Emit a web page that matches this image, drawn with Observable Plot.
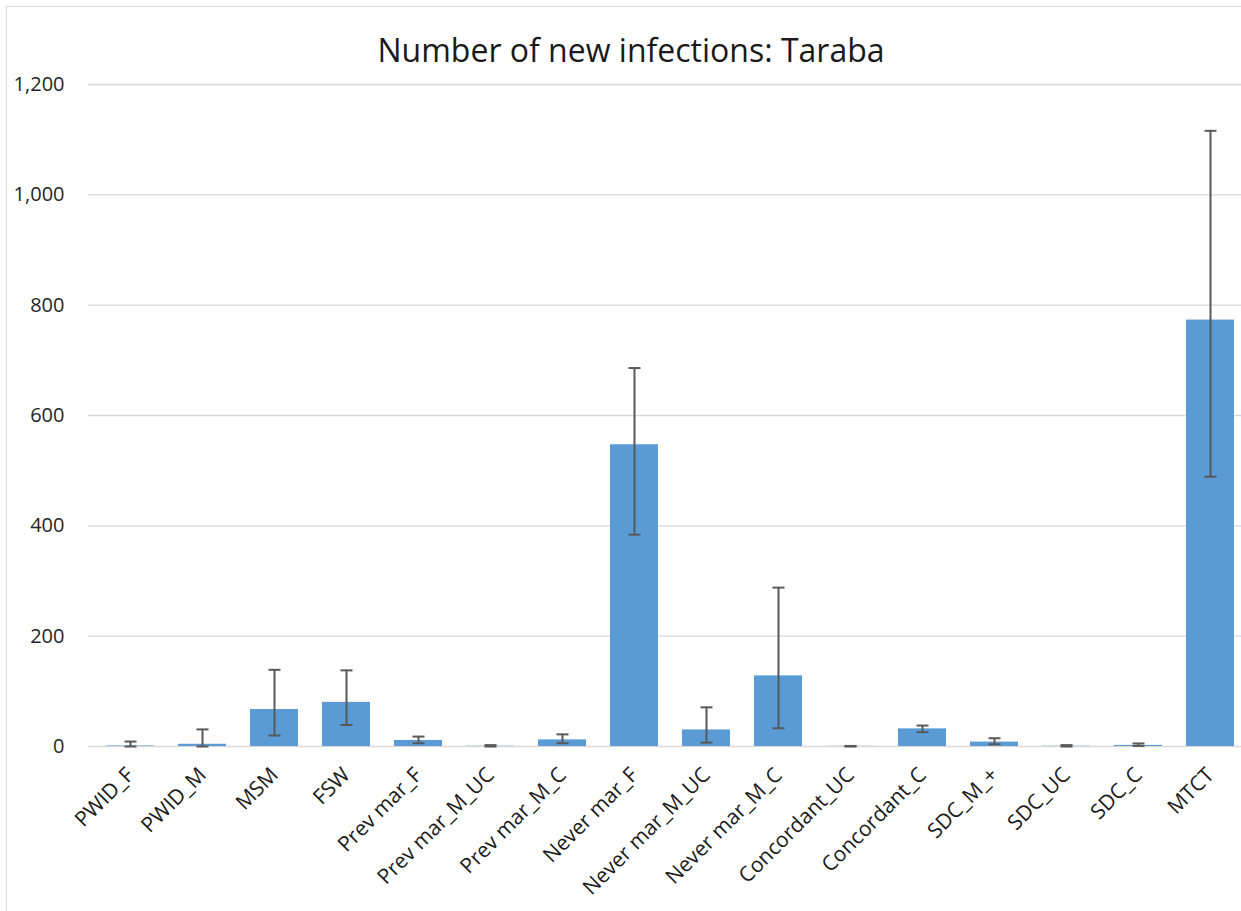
<!DOCTYPE html>
<html><head><meta charset="utf-8">
<script src="https://cdn.jsdelivr.net/npm/d3@7"></script>
<script src="https://cdn.jsdelivr.net/npm/@observablehq/plot@0.6"></script>
<style>
html,body{margin:0;padding:0;background:#fff;overflow:hidden;width:1241px;height:911px;}
#frame{position:absolute;left:6px;top:6px;width:1300px;height:1000px;border:1px solid #d9d9d9;box-sizing:border-box;}
#title{position:absolute;left:0;top:34px;width:1262px;text-align:center;font:32px/32px "Open Sans",sans-serif;color:#1a1a1a;white-space:nowrap;}
#chart{position:absolute;left:0;top:70px;width:1252px;height:841px;}
#chart svg{max-width:none !important;}
</style></head><body>
<div id="frame"></div>
<div id="title">Number of new infections: Taraba</div>
<div id="chart"></div>
<script>
const categories = ["PWID_F","PWID_M","MSM","FSW","Prev mar_F","Prev mar_M_UC","Prev mar_M_C","Never mar_F","Never mar_M_UC","Never mar_M_C","Concordant_UC","Concordant_C","SDC_M_+","SDC_UC","SDC_C","MTCT"];
const values = [1, 4, 67, 80, 11, 0.5, 12, 547, 30, 128, 0.3, 32, 8, 0.5, 2, 773];
const lower  = [0, 0, 20, 39, 6, 0, 6, 384, 7, 33, 0, 26, 4, 0, 1, 489];
const upper  = [9, 31, 139, 138, 18, 2.5, 22, 686, 71, 288, 1, 38, 15, 2.5, 5.5, 1116];
const yTicks = [0, 200, 400, 600, 800, 1000, 1200];

const data = categories.map((c, i) => ({category: c, value: values[i], lo: lower[i], hi: upper[i]}));
const cap = {draw(ctx) { ctx.moveTo(-6, 0); ctx.lineTo(6, 0); }};

const plot = Plot.plot({
  width: 1252, height: 841,
  marginTop: 14, marginBottom: 165, marginLeft: 88, marginRight: 0,
  style: {fontFamily: '"Open Sans", sans-serif', background: "transparent", overflow: "visible", maxWidth: "none"},
  x: {domain: categories, paddingInner: 0.34, paddingOuter: 0.17, label: null},
  y: {domain: [0, 1200], label: null},
  marks: [
    Plot.gridY(yTicks, {stroke: "#d9d9d9", strokeOpacity: 1, strokeWidth: 1.3}),
    Plot.barY(data, {x: "category", y: "value", fill: "#5B9BD5"}),
    Plot.ruleX(data, {x: "category", y1: "lo", y2: "hi", stroke: "#595959", strokeWidth: 2}),
    Plot.dot(data, {x: "category", y: "lo", symbol: cap, fill: "none", stroke: "#595959", strokeWidth: 2}),
    Plot.dot(data, {x: "category", y: "hi", symbol: cap, fill: "none", stroke: "#595959", strokeWidth: 2}),
    Plot.axisY(yTicks, {tickSize: 0, tickPadding: 24, tickFormat: d3.format(","), fontSize: 20, fill: "#262626", label: null}),
    Plot.axisX({tickSize: 0, tickPadding: 25, tickRotate: -45, fontSize: 21, fill: "#1a1a1a", label: null, dx: 0})
  ]
});
document.getElementById("chart").appendChild(plot);
</script>
</body></html>
